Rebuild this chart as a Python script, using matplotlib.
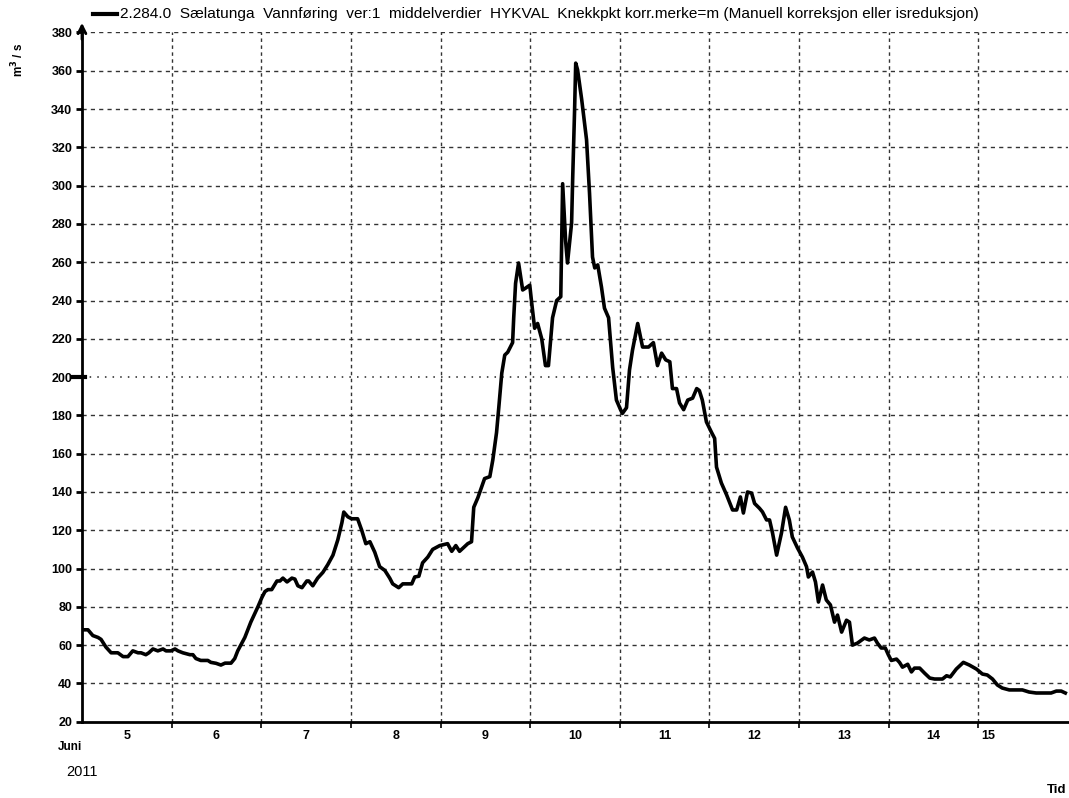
import numpy as np
import matplotlib.pyplot as plt
from matplotlib.lines import Line2D

plt.rcParams['font.family'] = ['Liberation Sans', 'DejaVu Sans']

# hourly-ish readings, hours counted from the start of the axis
hours = [0.0, 1.6, 2.9, 4.3, 5.1, 6.4, 7.8, 9.6, 11.0, 12.3, 13.6, 15.0, 15.8, 17.1, 17.9,
         19.0, 20.3, 21.7, 22.5, 23.8, 24.9, 25.7, 27.0, 28.9, 29.7, 30.5, 31.8, 33.7, 34.5,
         35.9, 37.2, 38.3, 39.9, 40.9, 41.7, 43.6, 45.2, 47.1, 48.2, 49.0, 49.8, 50.8, 52.2,
         53.0, 53.8, 54.9, 56.2, 57.0, 57.8, 58.9, 60.2, 60.7, 61.8, 63.1, 64.5, 65.8, 67.2,
         68.5, 69.6, 70.1, 71.2, 72.2, 73.8, 74.9, 76.0, 77.1, 78.4, 79.7, 81.1, 82.4, 83.2,
         84.8, 85.9, 88.3, 89.1, 90.2, 91.2, 92.6, 93.9, 95.8, 97.9, 99.0, 100.1, 101.1,
         103.3, 104.3, 104.9, 106.0, 107.0, 107.8, 109.2, 110.0, 111.0, 111.6, 112.4, 113.2,
         114.0, 115.3, 115.6, 116.1, 116.9, 118.0, 118.8, 119.9, 120.4, 121.2, 122.0, 123.1,
         124.1, 124.9, 126.0, 127.1, 128.2, 128.7, 129.5, 130.0, 131.1, 131.4, 131.9, 132.2,
         132.7, 133.8, 135.1, 135.9, 136.7, 137.3, 138.1, 139.1, 139.9, 141.0, 142.1, 143.1,
         144.2, 144.7, 145.8, 146.6, 147.4, 148.8, 150.1, 151.7, 153.0, 154.1, 155.2, 156.3,
         157.4, 158.1, 159.2, 160.0, 161.1, 162.2, 163.5, 164.6, 165.3, 166.1, 167.2, 168.6,
         169.4, 169.9, 171.2, 172.6, 174.2, 175.3, 176.3, 177.1, 178.2, 179.3, 180.1, 181.4,
         182.2, 183.3, 184.1, 184.9, 186.0, 187.3, 188.4, 189.4, 190.2, 191.6, 192.9, 194.0,
         194.5, 195.6, 196.4, 197.2, 198.3, 199.3, 200.4, 201.5, 202.3, 203.4, 204.7, 205.5,
         206.3, 207.6, 209.5, 210.8, 212.2, 213.0, 214.0, 215.1, 215.9, 216.7, 218.1, 218.9,
         219.7, 221.1, 222.1, 222.9, 224.3, 225.6, 227.0, 228.3, 230.4, 231.5, 232.5, 234.1,
         236.0, 237.6, 239.5, 241.1, 242.4, 243.8, 245.1, 246.4, 248.3, 251.8, 253.6, 255.5,
         259.5, 260.9, 262.2, 263.3]
flow = [68, 68, 65, 64, 63, 59, 56, 56, 54, 54, 57, 56, 56, 55, 56,
        58, 57, 58, 57, 57, 58, 57, 56, 55, 55, 53, 52, 52, 51,
        50.5, 49.6, 50.6, 50.6, 53, 57, 64, 72, 80, 85, 88, 89, 89, 93.5,
        93.5, 95, 93, 95, 94.5, 91, 90, 93.5, 93.5, 91, 95, 98, 102, 107,
        115, 124, 129.5, 127, 126, 126, 120, 113, 114, 108.5, 101, 99, 95, 92,
        90, 92, 92, 95.6, 96, 103, 106, 110, 112, 113, 109, 112, 109,
        113, 114, 132, 137, 142.6, 147, 148, 156.7, 171, 184, 202, 211.5,
        213, 218, 231, 249, 259.6, 245.5, 246.5, 248, 239, 225.5, 228, 220,
        206, 206, 231, 240, 242, 301, 271, 259.6, 280.5, 304.5, 339.5, 364,
        360.5, 345, 324, 296, 262.7, 257, 258.6, 247, 236, 231, 205, 188,
        183, 181, 184, 203.7, 214, 228, 215.7, 215.7, 218, 206, 212.5, 209,
        208, 194, 194, 186.5, 183, 188, 189, 194, 193, 188, 176.6, 171,
        168, 153, 144.7, 138.5, 130.6, 130.6, 137.4, 129, 140, 139.4, 134, 131.5,
        129.6, 125.4, 125.4, 118.6, 107, 118.6, 132, 125.4, 116.5, 110.7, 106, 101,
        95.6, 98.2, 93, 82.5, 91.4, 83.6, 81, 72, 75.7, 66.8, 73, 72,
        60, 61, 63.7, 62.7, 63.7, 61, 58.5, 58.5, 55, 52, 52.7, 51,
        48.5, 50, 46, 48, 48, 45.4, 42.8, 42.3, 42.3, 44, 43.4, 47.5,
        51, 49.6, 47.5, 44.9, 44.4, 42.3, 39.2, 37.6, 36.6, 36.6, 35.5, 35,
        35, 36, 36, 35]

day_labels = ['5', '6', '7', '8', '9', '10', '11', '12', '13', '14']
y_ticks = list(range(20, 381, 20))

days = np.array(hours) / 24.0

fig = plt.figure(figsize=(10.69, 7.98), dpi=100)
ax = fig.add_axes([0.0767, 0.0956, 0.9223, 0.8637])

ax.set_xlim(0, 11)
ax.set_ylim(20, 380)

# grid: dashed, except the 200 line which is dotted
for y in y_ticks[1:]:
    if y == 200:
        ax.axhline(y, color='#222222', lw=1.1, ls=(0, (1, 4)), zorder=1)
    else:
        ax.axhline(y, color='#333333', lw=1.0, ls=(0, (3, 3)), zorder=1)
for d in range(1, 11):
    ax.axvline(d, color='#333333', lw=1.0, ls=(0, (2.5, 2.5)), zorder=1)

ax.plot(days, flow, color='black', lw=2.6, solid_joinstyle='round', zorder=3)

for s in ['top', 'right']:
    ax.spines[s].set_visible(False)
ax.spines['left'].set_linewidth(2)
ax.spines['bottom'].set_linewidth(2)

ax.set_yticks(y_ticks)
ax.set_yticklabels([str(v) for v in y_ticks], fontweight='bold', fontsize=9)
ax.tick_params(axis='y', length=4, width=2, pad=3)
ax.set_xticks(range(1, 11))
ax.set_xticklabels([])
ax.tick_params(axis='x', length=4, width=1.2, direction='out')

# thicker tick at 200
ax.plot([-0.11, 0.035], [200, 200], color='black', lw=3, clip_on=False, zorder=4)

# arrow on the value axis
ax.annotate('', xy=(0, 1.014), xytext=(0, 0.99), xycoords='axes fraction',
            arrowprops=dict(arrowstyle='->', lw=2, color='black',
                            mutation_scale=14, shrinkA=0, shrinkB=0))

# day labels centred between the day lines
for i, lab in enumerate(day_labels):
    ax.text(i + 0.5, -0.012, lab, transform=ax.get_xaxis_transform(),
            ha='center', va='top', fontsize=9, fontweight='bold')
ax.text(10.03, -0.012, '15', transform=ax.get_xaxis_transform(),
        ha='left', va='top', fontsize=9, fontweight='bold')

fig.text(0.054, 0.064, 'Juni', ha='left', va='center', fontsize=8.5, fontweight='bold')
fig.text(0.062, 0.032, '2011', ha='left', va='center', fontsize=10.5)
fig.text(0.998, 0.010, 'Tid', ha='right', va='center', fontsize=9.5, fontweight='bold')

fig.text(0.017, 0.925, r'm$^\mathbf{3}$ / s', rotation=90, ha='center', va='center',
         fontsize=8.5, fontweight='bold')

# legend entry at the top
fig.add_artist(Line2D([0.087, 0.109], [0.982, 0.982], color='black', lw=3,
                      transform=fig.transFigure))
fig.text(0.112, 0.982,
         '2.284.0  Sælatunga  Vannføring  ver:1  middelverdier  HYKVAL  '
         'Knekkpkt korr.merke=m (Manuell korreksjon eller isreduksjon)',
         ha='left', va='center', fontsize=11.1)

fig.savefig('out.png', dpi=100)
